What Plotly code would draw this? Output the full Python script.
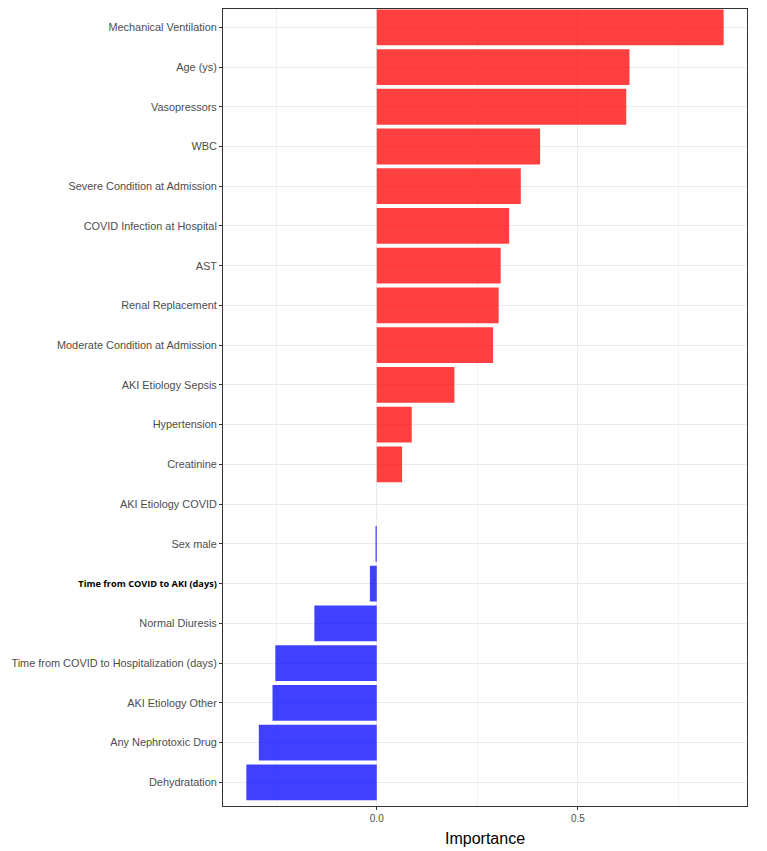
""" Horizontal bar chart of variable importance (positive in red, negative in blue) """
import plotly.graph_objects as go

# Variables, top to bottom, and their importance
variables = [
    "Mechanical Ventilation", "Age (ys)", "Vasopressors", "WBC",
    "Severe Condition at Admission", "COVID Infection at Hospital", "AST",
    "Renal Replacement", "Moderate Condition at Admission", "AKI Etiology Sepsis",
    "Hypertension", "Creatinine", "AKI Etiology COVID", "Sex male",
    "Time from COVID to AKI (days)", "Normal Diuresis",
    "Time from COVID to Hospitalization (days)", "AKI Etiology Other",
    "Any Nephrotoxic Drug", "Dehydratation",
]
importance = [
    0.862, 0.628, 0.620, 0.406, 0.358, 0.329, 0.308, 0.303, 0.289, 0.193,
    0.087, 0.063, 0.0, -0.003, -0.017, -0.155, -0.252, -0.259, -0.293, -0.324,
]

x_ticks = [0.0, 0.5]
x_tick_labels = ["0.0", "0.5"]

# One label is drawn in a different, bold font in the original
tick_text = []
for v in variables:
    if v == "Time from COVID to AKI (days)":
        tick_text.append("<span style='font-family:Open Sans;font-size:9.2px;color:black'>"
                         f"<b>{v}</b></span>")
    else:
        tick_text.append(v)

colors = ["rgba(255,0,0,0.75)" if v >= 0 else "rgba(0,0,255,0.75)" for v in importance]

fig = go.Figure(go.Bar(
    x=importance, y=variables, orientation="h",
    marker=dict(color=colors, line=dict(width=0)),
    width=0.9,
))

# The page body adds an 8px margin, so the figure is a bit smaller than the window
grid = "#EBEBEB"
fig.update_layout(
    width=759, height=843,
    margin=dict(l=215, r=20, t=1, b=45),
    paper_bgcolor="white", plot_bgcolor="white",
    font=dict(family="Liberation Sans, Arial, sans-serif", size=11, color="#4D4D4D"),
    showlegend=False,
)
fig.update_xaxes(
    range=[-0.382, 0.920], tickvals=x_ticks, ticktext=x_tick_labels,
    ticks="outside", ticklen=3, tickcolor="#333333",
    showgrid=True, gridcolor=grid, gridwidth=1,
    minor=dict(dtick=0.25, tick0=0, showgrid=True, gridcolor="#F2F2F2", gridwidth=0.6),
    zeroline=False, showline=True, mirror=True, linecolor="#333333", linewidth=1,
    automargin=False, tickfont=dict(size=10),
)
fig.update_yaxes(
    categoryorder="array", categoryarray=variables,
    tickvals=variables, ticktext=tick_text,
    range=[19.596, -0.46],
    ticks="outside", ticklen=3, tickcolor="#333333",
    showgrid=True, gridcolor=grid, gridwidth=1,
    zeroline=False, showline=True, mirror=True, linecolor="#333333", linewidth=1,
    automargin=False, tickfont=dict(size=10.9),
)

# Axis title as an annotation so it sits where the original has it
fig.add_annotation(
    text="Importance", xref="paper", yref="paper", x=0.5, y=0,
    yshift=-22, yanchor="top", showarrow=False,
    font=dict(size=16, color="black"),
)

fig.write_html("out.html")
